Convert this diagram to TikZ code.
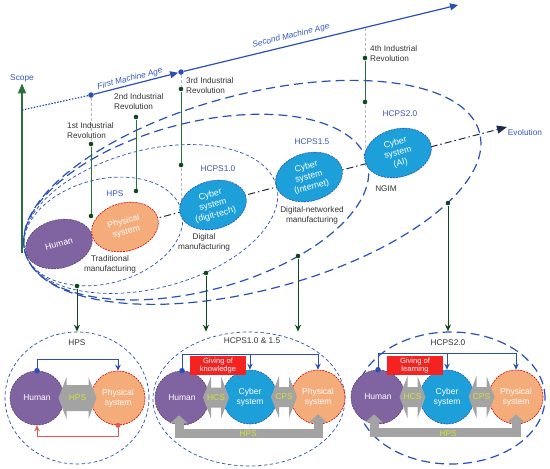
\documentclass[tikz,border=0pt]{standalone}
\usepackage{fontspec}
\setmainfont{Liberation Sans}
\usetikzlibrary{arrows.meta,shapes.geometric,calc}

\definecolor{lineblue}{HTML}{2A4FB8}
\definecolor{labblue}{HTML}{3556C0}
\definecolor{dgreen}{HTML}{2A7038}
\definecolor{dotgreen}{HTML}{0E4A1E}
\definecolor{humpurple}{HTML}{8064A2}
\definecolor{physorange}{HTML}{F4AC7A}
\definecolor{cybcyan}{HTML}{1DA0DA}
\definecolor{boxred}{HTML}{F52222}
\definecolor{linered}{HTML}{E05A4E}
\definecolor{arrgray}{HTML}{A3A3A3}
\definecolor{ygreen}{HTML}{D2E03C}
\definecolor{txtgray}{HTML}{333333}
\definecolor{evonavy}{HTML}{1C2B4A}

\newcommand{\dblarrow}[3]{% centre, half length, half shaft
  \fill[arrgray] ([xshift=-#2pt]#1) -- ++(8,-21) -- ++(0,21-#3) -- ++(2*#2-16,0) -- ++(0,#3-21)
    -- ++(8,21) -- ++(-8,21) -- ++(0,#3-21) -- ++(16-2*#2,0) -- ++(0,21-#3) -- cycle;}

\tikzset{
  thinell/.style={lineblue, line width=0.7pt, dash pattern=on 3.5pt off 2.5pt},
  thickell/.style={lineblue, line width=1.2pt, dash pattern=on 9pt off 5pt},
  gdot/.style={circle, fill=dotgreen, inner sep=0pt, minimum size=4.6pt},
  bdot/.style={circle, fill=lineblue, inner sep=0pt, minimum size=5.5pt},
  rdot/.style={circle, fill=linered, inner sep=0pt, minimum size=5pt},
  gline/.style={dgreen, line width=1pt},
  garr/.style={dotgreen, line width=1pt, -{Stealth[length=7pt,width=6pt]}},
  vguide/.style={gray!55, line width=0.5pt, dash pattern=on 3pt off 2pt},
  revlab/.style={txtgray, align=left, inner sep=1pt, font=\fontsize{8.2}{10}\selectfont},
  blab/.style={labblue, inner sep=1.5pt, font=\fontsize{8.3}{10}\selectfont},
  tlab/.style={txtgray, align=center, inner sep=1pt, font=\fontsize{8.2}{10}\selectfont},
  mage/.style={lineblue, line width=1.2pt, -{Triangle[length=8pt,width=7pt]}},
  evo/.style={evonavy, line width=1pt, dash pattern=on 7pt off 3pt on 1.5pt off 3pt, -{Triangle[length=10pt,width=8pt]}},
  sysell/.style={ellipse, minimum width=68pt, minimum height=48pt, inner sep=0pt, rotate=15,
    text=white, align=center, line width=0.6pt, dash pattern=on 2pt off 1pt, font=\fontsize{8.8}{10.5}\selectfont},
  human/.style={sysell, fill=humpurple, draw=humpurple!65!black},
  phys/.style={sysell, fill=physorange, draw=red!85!black},
  cyber/.style={sysell, fill=cybcyan, draw=lineblue},
  panel/.style={ellipse, inner sep=0pt, draw},
  syscirc/.style={circle, minimum size=54pt, inner sep=0pt, text=white, align=center,
    line width=0.6pt, dash pattern=on 2pt off 1pt, font=\fontsize{8.5}{10}\selectfont},
  hcirc/.style={syscirc, fill=humpurple, draw=humpurple!65!black},
  pcirc/.style={syscirc, fill=physorange, draw=red!85!black},
  ccirc/.style={syscirc, fill=cybcyan, draw=lineblue},
  bconn/.style={lineblue, line width=1pt, -{Stealth[length=6pt,width=5.5pt]}},
  rconn/.style={linered, line width=1pt, -{Stealth[length=6pt,width=5.5pt]}},
  givebox/.style={fill=boxred, text=white, align=center, minimum width=56pt, minimum height=19pt,
    inner sep=0pt, font=\fontsize{7.6}{8.6}\selectfont},
  hpsbar/.style={arrgray, line width=9pt, {Triangle[length=8pt,width=17pt]}-{Triangle[length=8pt,width=17pt]}},
  arrtxt/.style={ygreen, inner sep=0pt, font=\fontsize{8.5}{10}\selectfont},
  plab/.style={txtgray, font=\fontsize{8.3}{10}\selectfont}
}

\begin{document}
\begin{tikzpicture}[x=1pt,y=-1pt]
\useasboundingbox (0,0) rectangle (550,469);

% nested scopes
\draw[thickell, rotate around={14.7:(25,252)}] (260,252) ellipse [x radius=235pt, y radius=98pt];
\draw[thickell, rotate around={14.7:(25,252)}] (202,252) ellipse [x radius=177pt, y radius=84pt];
\draw[thinell, rotate around={14.7:(25,252)}] (155,252) ellipse [x radius=130pt, y radius=69pt];
\draw[thinell, rotate around={14.7:(25,252)}] (106,252) ellipse [x radius=81pt, y radius=52pt];

\coordinate (evoS) at (150,220);
\coordinate (evoE) at (507,127);
\draw[evo] (evoS) -- (evoE);
\node[blab] (evol) at (525,133) {Evolution};

% machine ages
\coordinate (orig) at (22,253);
\coordinate (scp) at (22,110);
\coordinate (ma2) at (458,5);
\node[bdot] (ma0) at (91,95) {};
\node[bdot] (ma1) at (181,72) {};
\node[blab] (scope) at (22,78) {Scope};
\draw[dgreen, line width=1.3pt, -{Triangle[length=10pt,width=8pt]}] (orig) -- (scope.south);
\draw[lineblue, line width=1.2pt, dash pattern=on 1.5pt off 1.5pt] (scp) -- (ma0);
\draw[mage] (ma0) -- (ma1);
\draw[mage] (ma1) -- (ma2);
\node[blab, rotate=14.3, font=\fontsize{8.3}{10}\selectfont\itshape] (fma) at (130,79) {First Machine Age};
\node[blab, rotate=13.6, font=\fontsize{8.3}{10}\selectfont\itshape] (sma) at (291,36) {Second Machine Age};

% industrial revolutions
\node[gdot] (r1t) at (91,144) {};
\node[gdot] (r1b) at (91,216) {};
\node[gdot] (r2t) at (136,117) {};
\node[gdot] (r2b) at (136,191) {};
\node[gdot] (r3t) at (181,89) {};
\node[gdot] (r3b) at (181,165) {};
\node[gdot] (r4t) at (365,58) {};
\node[gdot] (r4b) at (365,102) {};
\coordinate (g3) at (181,210);
\coordinate (g4a) at (365,28);
\coordinate (g4b) at (365,165);
\draw[vguide] (ma0) -- (r1t);
\draw[vguide] (ma1) -- (r3t);
\draw[vguide] (r3b) -- (g3);
\draw[vguide] (g4a) -- (r4t);
\draw[vguide] (r4b) -- (g4b);
\draw[gline] (r1t) -- (r1b);
\draw[gline] (r2t) -- (r2b);
\draw[gline] (r3t) -- (r3b);
\draw[gline] (r4t) -- (r4b);
\node[revlab, anchor=west] (l1) at (66,131) {1st Industrial\\Revolution};
\node[revlab, anchor=west] (l2) at (113,102) {2nd Industrial\\Revolution};
\node[revlab, anchor=west] (l3) at (185,86) {3rd Industrial\\Revolution};
\node[revlab, anchor=west] (l4) at (369,54) {4th Industrial\\Revolution};

% systems along the evolution
\node[human] (hum) at (59,244) {Human};
\node[phys] (phy) at (125,227) {Physical\\system};
\node[cyber] (cdt) at (213,205) {Cyber\\system\\(digit-tech)};
\node[cyber] (cin) at (309,177) {Cyber\\system\\(Internet)};
\node[cyber] (cai) at (398,153) {Cyber\\system\\(AI)};
\node[blab] (lhps) at (115,194) {HPS};
\node[blab] (lh10) at (218,169) {HCPS1.0};
\node[blab] (lh15) at (312,142) {HCPS1.5};
\node[blab] (lh20) at (400,114) {HCPS2.0};
\node[tlab] (tm) at (110,264) {Traditional\\manufacturing};
\node[tlab] (dm) at (204,242) {Digital\\manufacturing};
\node[tlab] (dnm) at (312,215) {Digital-networked\\manufacturing};
\node[tlab] (ngim) at (386,189) {NGIM};

% panels
\node[gdot] (d1) at (77,286) {};
\node[gdot] (d2) at (206,273) {};
\node[gdot] (d3) at (298,256) {};
\node[gdot] (d4) at (448,203) {};
\node[panel, thinell, minimum width=144pt, minimum height=132pt] (pA) at (77,398) {};
\node[panel, thinell, minimum width=192pt, minimum height=134pt] (pB) at (249,399) {};
\node[panel, thickell, minimum width=188pt, minimum height=132pt] (pC) at (451,398) {};
\draw[garr] (d1) -- (d1 |- pA.north);
\draw[garr] (d2) -- (d2 |- pB.north);
\draw[garr] (d3) -- (d3 |- pB.north);
\draw[garr] (d4) -- (d4 |- pC.north);
\node[plab] (tA) at (77,343) {HPS};
\node[plab] (tB) at (252,341) {HCPS1.0 \& 1.5};
\node[plab] (tC) at (448,343) {HCPS2.0};

% HPS panel
\node[hcirc] (h1) at (37,398) {Human};
\node[pcirc] (p1) at (118,398) {Physical\\system};
\draw[bconn] (h1.north) -- ++(0,-11) -| (p1.north);
\draw[rconn] (p1.south) -- ++(0,11) -| (h1.south);
\node[bdot] (h1d) at (h1.north) {};
\node[rdot] (p1d) at (p1.south) {};
\coordinate (a1) at ($(h1)!0.5!(p1)$);
\dblarrow{a1}{19}{13}
\node[arrtxt] (a1t) at (a1) {HPS};

% HCPS1.0 & 1.5 panel
\node[hcirc] (h2) at (182,398) {Human};
\node[ccirc] (c2) at (250,397) {Cyber\\system};
\node[pcirc] (p2) at (318,397) {Physical\\system};
\draw[bconn] (h2.north) -- ++(0,-16) coordinate (t2) -| (p2.north);
\draw[bconn] (t2 -| c2.north) -- (c2.north);
\node[bdot] (h2d) at (h2.north) {};
\node[givebox] (gk) at (218,365.5) {Giving of\\knowledge};
\coordinate (a2) at ($(h2)!0.5!(c2)$);
\coordinate (a3) at ($(c2)!0.5!(p2)$);
\dblarrow{a2}{13}{10}
\dblarrow{a3}{13}{10}
\node[arrtxt] (a2t) at (a2) {HCS};
\node[arrtxt] (a3t) at (a3) {CPS};
\draw[hpsbar] ([xshift=-3pt,yshift=10pt]h2.south) -- ++(0,18) -| ([yshift=10pt]p2.south);
\node[arrtxt] (b2t) at (248,434) {HPS};

% HCPS2.0 panel
\node[hcirc] (h3) at (378,397) {Human};
\node[ccirc] (c3) at (447,397) {Cyber\\system};
\node[pcirc] (p3) at (516,397) {Physical\\system};
\draw[bconn] (h3.north) -- ++(0,-16) coordinate (t3) -| (p3.north);
\draw[bconn] (t3 -| c3.north) -- (c3.north);
\node[bdot] (h3d) at (h3.north) {};
\node[givebox] (gl) at (415,365.5) {Giving of\\learning};
\coordinate (a4) at ($(h3)!0.5!(c3)$);
\coordinate (a5) at ($(c3)!0.5!(p3)$);
\dblarrow{a4}{13}{10}
\dblarrow{a5}{13}{10}
\node[arrtxt] (a4t) at (a4) {HCS};
\node[arrtxt] (a5t) at (a5) {CPS};
\draw[hpsbar] ([xshift=-4pt,yshift=10pt]h3.south) -- ++(0,18) -| ([yshift=10pt]p3.south);
\node[arrtxt] (b3t) at (448,434) {HPS};
\end{tikzpicture}
\end{document}
